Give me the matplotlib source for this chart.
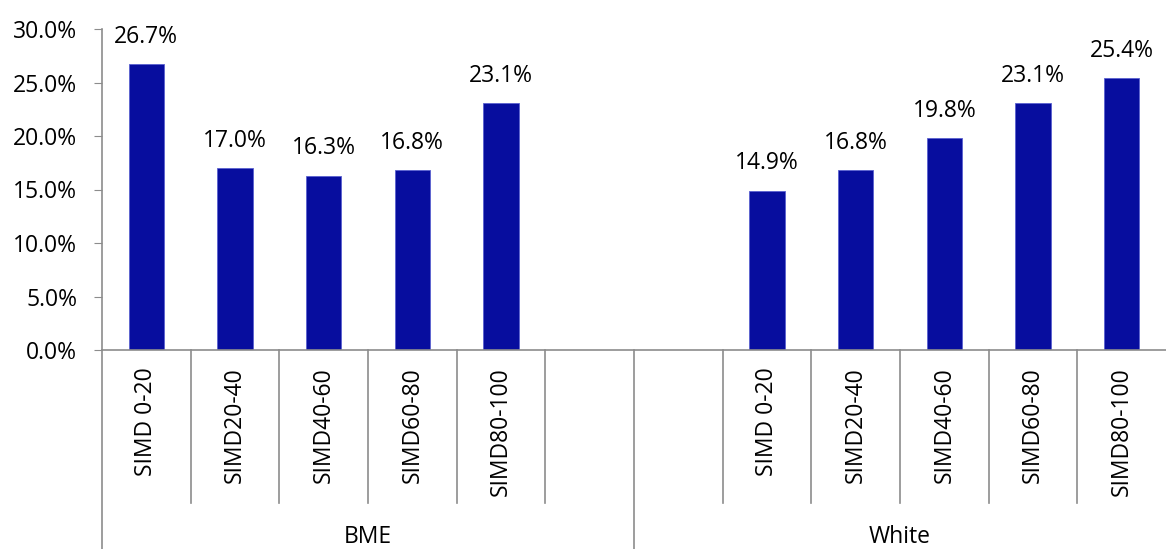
import matplotlib.pyplot as plt
import matplotlib.transforms as mtrans

plt.rcParams['font.family'] = ['Open Sans', 'DejaVu Sans']

groups = ["BME", "White"]
bands = ["SIMD 0-20", "SIMD20-40", "SIMD40-60", "SIMD60-80", "SIMD80-100"]
bme = [26.7, 17.0, 16.3, 16.8, 23.1]
white = [14.9, 16.8, 19.8, 23.1, 25.4]

bar_col = "#070d9e"
grey = "#8c8c8c"
fs = 16.5

fig = plt.figure(figsize=(11.66, 5.49), dpi=100)
ax = fig.add_axes([102/1166, 1-350/549, 1-102/1166, 321/549])

# 6 slots per group; BME leaves the last one empty, White the first one
slots = len(bands) + 1
xs, vals, labs = [], [], []
for g, series in enumerate([bme, white]):
    for i, v in enumerate(series):
        xs.append(g*slots + g + i)
        vals.append(v)
        labs.append(bands[i])

ax.bar(xs, vals, width=0.4, color=bar_col, edgecolor="#5a60d0", linewidth=0.6)
for x, v in zip(xs, vals):
    ax.annotate(f"{v:.1f}%", (x, v), xytext=(0, 11), textcoords="offset points",
                ha="center", va="bottom", fontsize=fs)

n = len(groups)*slots
ax.set_xlim(-0.5, n-0.5)
ax.set_ylim(0, 30)
ax.set_yticks(range(0, 31, 5))
ax.set_yticklabels([f"{t:.1f}%" for t in range(0, 31, 5)], fontsize=fs)
ax.tick_params(axis="y", length=6, color=grey, pad=12)
ax.set_xticks([])

for s in ["top", "right"]:
    ax.spines[s].set_visible(False)
for s in ["left", "bottom"]:
    ax.spines[s].set_color(grey)
    ax.spines[s].set_linewidth(1.2)

tr = mtrans.blended_transform_factory(ax.transData, ax.transAxes)
# category boundaries
for k in range(1, n):
    low = -199/321 if k % slots == 0 else -153/321
    ax.plot([k-0.5, k-0.5], [0, low], color=grey, lw=1.2, transform=tr, clip_on=False)
ax.plot([-0.5, -0.5], [0, -199/321], color=grey, lw=1.2, transform=tr, clip_on=False)

for x, lab in zip(xs, labs):
    ax.text(x, -17/321, lab, rotation=90, ha="center", va="top", fontsize=fs,
            transform=tr)
for g, name in enumerate(groups):
    ax.text(g*slots + (slots-1)/2, -187/321, name, ha="center", va="center",
            fontsize=fs, transform=tr)

fig.savefig("out.png", dpi=100)
